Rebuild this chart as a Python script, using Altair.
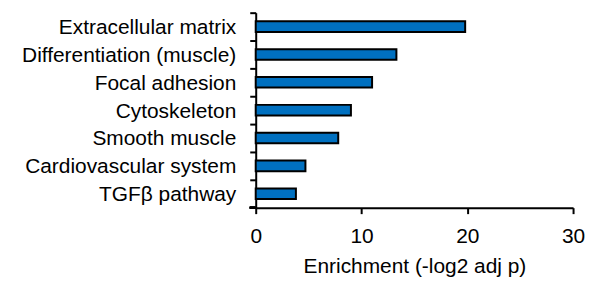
import altair as alt
import pandas as pd

categories = ["Extracellular matrix", "Differentiation (muscle)", "Focal adhesion",
              "Cytoskeleton", "Smooth muscle", "Cardiovascular system", "TGFβ pathway"]
values = [19.8, 13.3, 11.0, 9.0, 7.8, 4.7, 3.8]
x_ticks = [0, 10, 20, 30]

df = pd.DataFrame({"term": categories, "enrich": values})

W, H = 319, 196
STEP = H / len(categories)
FONT = "Liberation Sans"
FS = 21

bars = alt.Chart(df).mark_bar(
    height={"band": 0.38}, color="#0070C0", stroke="#000000", strokeWidth=2
).encode(
    x=alt.X("enrich:Q", scale=alt.Scale(domain=[0, 30], nice=False),
            axis=alt.Axis(values=x_ticks, title="Enrichment (-log2 adj p)", grid=False,
                          domainColor="#000", domainWidth=2, tickColor="#000", tickWidth=2,
                          tickSize=6, labelFont=FONT, labelFontSize=FS, labelColor="#000",
                          labelFlush=False, labelPadding=12, titleFont=FONT, titleFontSize=FS,
                          titleFontWeight="normal", titleColor="#000", titlePadding=9)),
    y=alt.Y("term:N", sort=categories,
            scale=alt.Scale(paddingInner=0, paddingOuter=0),
            axis=alt.Axis(title=None, domainColor="#000", domainWidth=2, tickColor="#000",
                          tickWidth=2, tickSize=6, tickOffset=-STEP / 2, labelOffset=STEP / 2 + 1,
                          labelFont=FONT, labelFontSize=FS, labelColor="#000",
                          labelPadding=14, labelLimit=300)),
)

bottom_tick = alt.Chart(df).mark_rule(color="#000", strokeWidth=2).encode(
    x=alt.value(-6), x2=alt.value(0), y=alt.value(H)
)

chart = alt.layer(bars, bottom_tick).properties(
    width=W, height=H,
    autosize=alt.AutoSizeParams(type="none"),
    padding={"left": 249, "top": 4, "right": 12, "bottom": 70},
).configure(background="#ffffff", view={"stroke": None})

chart.save("out.html", embed_options={"renderer": "svg", "actions": False})
